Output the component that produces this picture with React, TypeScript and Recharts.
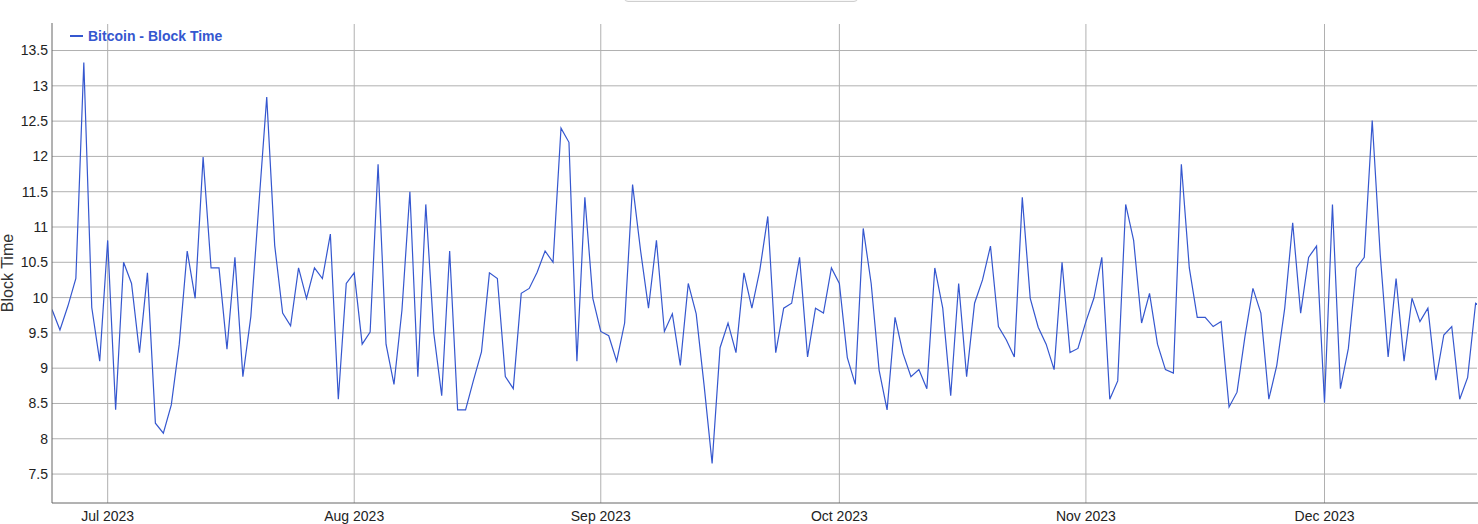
import React from 'react';
import { LineChart, Line, XAxis, YAxis, ReferenceLine } from 'recharts';

const seriesName = 'Bitcoin - Block Time';
const axisTitle = 'Block Time';
const startDate = '2023-06-24';

const blockTime = [
  9.83, 9.54, 9.88, 10.27, 13.33, 9.86, 9.1, 10.81, 8.41, 10.5,
  10.2, 9.22, 10.35, 8.22, 8.08, 8.48, 9.34, 10.66, 9.99, 11.99,
  10.42, 10.42, 9.27, 10.57, 8.88, 9.73, 11.3, 12.84, 10.74, 9.78,
  9.6, 10.42, 9.99, 10.42, 10.27, 10.9, 8.56, 10.2, 10.35, 9.34,
  9.51, 11.89, 9.34, 8.77, 9.82, 11.5, 8.88, 11.32, 9.5, 8.61,
  10.66, 8.41, 8.41, 8.83, 9.23, 10.35, 10.27, 8.88, 8.71, 10.06,
  10.13, 10.36, 10.66, 10.5, 12.4, 12.2, 9.1, 11.42, 9.99, 9.52,
  9.46, 9.1, 9.64, 11.6, 10.67, 9.85, 10.81, 9.52, 9.77, 9.04,
  10.2, 9.77, 8.75, 7.65, 9.29, 9.64, 9.22, 10.35, 9.85, 10.39,
  11.15, 9.22, 9.85, 9.92, 10.57, 9.16, 9.85, 9.78, 10.42, 10.2,
  9.15, 8.77, 10.98, 10.2, 8.97, 8.41, 9.72, 9.21, 8.88, 8.98,
  8.71, 10.42, 9.85, 8.61, 10.2, 8.88, 9.92, 10.25, 10.73, 9.59,
  9.4, 9.16, 11.42, 9.99, 9.58, 9.34, 8.98, 10.5, 9.22, 9.28,
  9.66, 9.99, 10.57, 8.56, 8.82, 11.32, 10.81, 9.64, 10.06, 9.34,
  8.98, 8.93, 11.89, 10.42, 9.72, 9.72, 9.59, 9.66, 8.45, 8.66,
  9.45, 10.13, 9.78, 8.56, 9.04, 9.85, 11.06, 9.78, 10.57, 10.73,
  8.51, 11.32, 8.71, 9.28, 10.42, 10.57, 12.51, 10.62, 9.16, 10.27,
  9.1, 9.99, 9.66, 9.85, 8.83, 9.47, 9.59, 8.56, 8.87, 9.92,
  9.85,
];

const monthTickDates = ['2023-07-01', '2023-08-01', '2023-09-01', '2023-10-01', '2023-11-01', '2023-12-01'];
const monthTickLabels = ['Jul 2023', 'Aug 2023', 'Sep 2023', 'Oct 2023', 'Nov 2023', 'Dec 2023'];
const yTicks = [7.5, 8, 8.5, 9, 9.5, 10, 10.5, 11, 11.5, 12, 12.5, 13, 13.5];
const yDomain = [7.09, 13.89];
const visibleDays = 179.3;

const DAY = 86400000;
const start = Date.parse(startDate + 'T00:00:00Z');
const xDomain = [start, start + visibleDays * DAY];
const data = blockTime.map((v, i) => ({ t: start + i * DAY, v }));
const tickTimes = monthTickDates.map((s) => Date.parse(s + 'T00:00:00Z'));
const tickLabelFor = (t: number) => {
  const idx = tickTimes.indexOf(t);
  return idx >= 0 ? monthTickLabels[idx] : '';
};

const FONT = '"Liberation Sans", Arial, Helvetica, sans-serif';
const LINE_COLOR = '#3557cf';
const GRID = '#b0b0b0';

export default function App() {
  return (
    <div style={{ position: 'absolute', left: 0, top: 0, width: 1478, height: 524, fontFamily: FONT, background: '#fff', overflow: 'hidden' }}>
      <div
        style={{
          position: 'absolute', left: 624, top: -20, width: 234, height: 22,
          border: '1px solid #cfcfcf', borderRadius: 4, background: '#f7f7f7', boxSizing: 'border-box',
        }}
      />
      <LineChart
        width={1478}
        height={524}
        data={data}
        margin={{ top: 23, right: 0, bottom: 0, left: 0 }}
        accessibilityLayer={false}
        style={{ outline: 'none' }}
      >
        <XAxis
          dataKey="t"
          type="number"
          scale="linear"
          height={21}
          domain={xDomain}
          allowDataOverflow
          ticks={tickTimes}
          tickFormatter={tickLabelFor}
          tickLine={false}
          axisLine={{ stroke: '#666', strokeWidth: 1 }}
          tick={{ fill: '#222', fontSize: 14, fontFamily: FONT }}
          tickSize={6}
          tickMargin={2}
          interval={0}
        />
        <YAxis
          type="number"
          width={52}
          domain={yDomain}
          allowDataOverflow
          ticks={yTicks}
          tickFormatter={(v: number) => String(v)}
          tickLine={false}
          axisLine={{ stroke: '#666', strokeWidth: 1 }}
          tick={{ fill: '#222', fontSize: 14, fontFamily: FONT }}
          tickSize={2}
          tickMargin={2}
          interval={0}
        />
        {yTicks.map((t) => (
          <ReferenceLine key={'h' + t} y={t} stroke={GRID} strokeWidth={1} ifOverflow="hidden" />
        ))}
        {tickTimes.map((t) => (
          <ReferenceLine key={'v' + t} x={t} stroke={GRID} strokeWidth={1} ifOverflow="hidden" />
        ))}
        <Line
          type="linear"
          dataKey="v"
          stroke={LINE_COLOR}
          strokeWidth={1.2}
          dot={false}
          activeDot={false}
          isAnimationActive={false}
        />
      </LineChart>
      <div style={{ position: 'absolute', left: 54, top: 21, width: 1424, height: 3, background: '#fff' }} />
      <div style={{ position: 'absolute', left: 1476.6, top: 21, width: 2, height: 481, background: '#fff' }} />
      <div style={{ position: 'absolute', left: 70, top: 27, height: 18, display: 'flex', alignItems: 'center', color: LINE_COLOR, fontWeight: 700, fontSize: 14, whiteSpace: 'nowrap' }}>
        <span style={{ display: 'inline-block', width: 13, height: 2, background: LINE_COLOR, marginRight: 5 }} />
        <span>{seriesName}</span>
      </div>
      <div
        style={{
          position: 'absolute', left: 8 - 60, top: 273 - 10, width: 120, height: 20, lineHeight: '20px',
          textAlign: 'center', transform: 'rotate(-90deg)', fontSize: 16, color: '#333', whiteSpace: 'nowrap',
        }}
      >
        {axisTitle}
      </div>
    </div>
  );
}
